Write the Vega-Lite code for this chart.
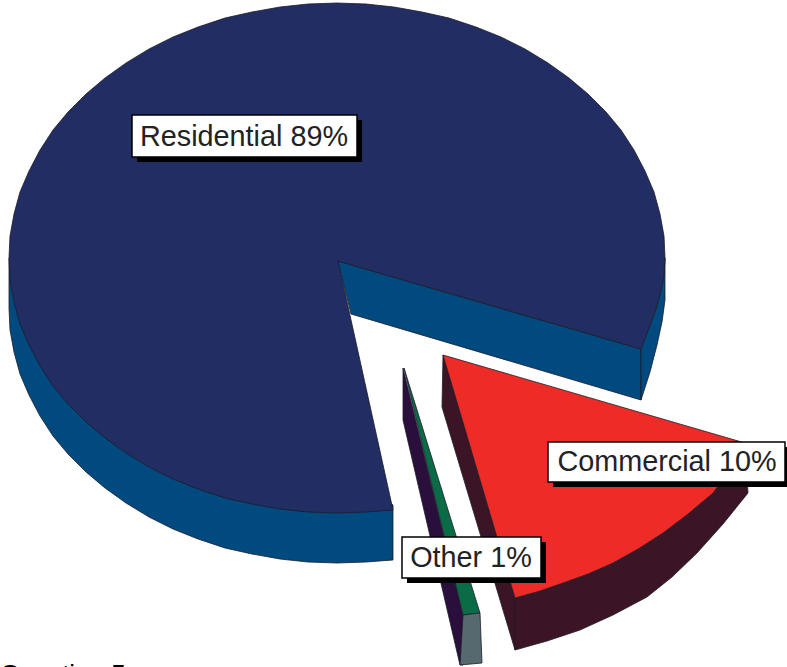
{"$schema":"https://vega.github.io/schema/vega-lite/v6.json","autosize":{"type":"fit","contains":"padding"},"width":787,"height":667,"padding":0,"background":"white","view":{"stroke":null},
"datasets":{
"faces":[
{"part":"Residential side","i":1,"x":9,"y":258},{"part":"Residential side","i":2,"x":9,"y":308},{"part":"Residential side","i":3,"x":10,"y":330},{"part":"Residential side","i":4,"x":14,"y":352},{"part":"Residential side","i":5,"x":20,"y":374},{"part":"Residential side","i":6,"x":29,"y":395},{"part":"Residential side","i":7,"x":40,"y":416},{"part":"Residential side","i":8,"x":53,"y":436},{"part":"Residential side","i":9,"x":68,"y":454},{"part":"Residential side","i":10,"x":86,"y":472},{"part":"Residential side","i":11,"x":105,"y":488},{"part":"Residential side","i":12,"x":126,"y":503},{"part":"Residential side","i":13,"x":149,"y":517},{"part":"Residential side","i":14,"x":173,"y":529},{"part":"Residential side","i":15,"x":198,"y":539},{"part":"Residential side","i":16,"x":225,"y":548},{"part":"Residential side","i":17,"x":252,"y":554},{"part":"Residential side","i":18,"x":280,"y":559},{"part":"Residential side","i":19,"x":308,"y":562},{"part":"Residential side","i":20,"x":337,"y":563},{"part":"Residential side","i":21,"x":366,"y":562},{"part":"Residential side","i":22,"x":393,"y":560},{"part":"Residential side","i":23,"x":393,"y":505},
{"part":"Residential wall","i":1,"x":338,"y":261},{"part":"Residential wall","i":2,"x":641,"y":349},{"part":"Residential wall","i":3,"x":641,"y":400},{"part":"Residential wall","i":4,"x":351,"y":314},
{"part":"Residential rim","i":1,"x":641,"y":349},{"part":"Residential rim","i":2,"x":649,"y":328},{"part":"Residential rim","i":3,"x":656,"y":309},{"part":"Residential rim","i":4,"x":661,"y":290},{"part":"Residential rim","i":5,"x":664,"y":275},{"part":"Residential rim","i":6,"x":665,"y":258},{"part":"Residential rim","i":7,"x":665,"y":300},{"part":"Residential rim","i":8,"x":662,"y":322},{"part":"Residential rim","i":9,"x":657,"y":345},{"part":"Residential rim","i":10,"x":650,"y":372},{"part":"Residential rim","i":11,"x":641,"y":400},
{"part":"Residential top","i":1,"x":641,"y":349},{"part":"Residential top","i":2,"x":649,"y":328},{"part":"Residential top","i":3,"x":656,"y":309},{"part":"Residential top","i":4,"x":661,"y":290},{"part":"Residential top","i":5,"x":664,"y":275},{"part":"Residential top","i":6,"x":665,"y":258},{"part":"Residential top","i":7,"x":664,"y":236},{"part":"Residential top","i":8,"x":660,"y":214},{"part":"Residential top","i":9,"x":654,"y":192},{"part":"Residential top","i":10,"x":645,"y":171},{"part":"Residential top","i":11,"x":634,"y":150},{"part":"Residential top","i":12,"x":621,"y":130},{"part":"Residential top","i":13,"x":606,"y":112},{"part":"Residential top","i":14,"x":588,"y":94},{"part":"Residential top","i":15,"x":569,"y":78},{"part":"Residential top","i":16,"x":548,"y":63},{"part":"Residential top","i":17,"x":525,"y":49},{"part":"Residential top","i":18,"x":501,"y":37},{"part":"Residential top","i":19,"x":476,"y":27},{"part":"Residential top","i":20,"x":449,"y":18},{"part":"Residential top","i":21,"x":422,"y":12},{"part":"Residential top","i":22,"x":394,"y":7},{"part":"Residential top","i":23,"x":366,"y":4},{"part":"Residential top","i":24,"x":337,"y":3},{"part":"Residential top","i":25,"x":308,"y":4},{"part":"Residential top","i":26,"x":280,"y":7},{"part":"Residential top","i":27,"x":252,"y":12},{"part":"Residential top","i":28,"x":225,"y":18},{"part":"Residential top","i":29,"x":198,"y":27},{"part":"Residential top","i":30,"x":173,"y":37},{"part":"Residential top","i":31,"x":149,"y":49},{"part":"Residential top","i":32,"x":126,"y":63},{"part":"Residential top","i":33,"x":105,"y":78},{"part":"Residential top","i":34,"x":86,"y":94},{"part":"Residential top","i":35,"x":68,"y":112},{"part":"Residential top","i":36,"x":53,"y":130},{"part":"Residential top","i":37,"x":40,"y":150},{"part":"Residential top","i":38,"x":29,"y":171},{"part":"Residential top","i":39,"x":20,"y":192},{"part":"Residential top","i":40,"x":14,"y":214},{"part":"Residential top","i":41,"x":10,"y":236},{"part":"Residential top","i":42,"x":9,"y":258},{"part":"Residential top","i":43,"x":10,"y":280},{"part":"Residential top","i":44,"x":14,"y":302},{"part":"Residential top","i":45,"x":20,"y":324},{"part":"Residential top","i":46,"x":29,"y":345},{"part":"Residential top","i":47,"x":40,"y":366},{"part":"Residential top","i":48,"x":53,"y":386},{"part":"Residential top","i":49,"x":68,"y":404},{"part":"Residential top","i":50,"x":86,"y":422},{"part":"Residential top","i":51,"x":105,"y":438},{"part":"Residential top","i":52,"x":126,"y":453},{"part":"Residential top","i":53,"x":149,"y":467},{"part":"Residential top","i":54,"x":173,"y":479},{"part":"Residential top","i":55,"x":198,"y":489},{"part":"Residential top","i":56,"x":225,"y":498},{"part":"Residential top","i":57,"x":252,"y":504},{"part":"Residential top","i":58,"x":280,"y":509},{"part":"Residential top","i":59,"x":308,"y":512},{"part":"Residential top","i":60,"x":337,"y":513},{"part":"Residential top","i":61,"x":366,"y":512},{"part":"Residential top","i":62,"x":393,"y":510},{"part":"Residential top","i":63,"x":338,"y":261},
{"part":"Other wall","i":1,"x":403,"y":368},{"part":"Other wall","i":2,"x":463,"y":615},{"part":"Other wall","i":3,"x":463,"y":665},{"part":"Other wall","i":4,"x":460,"y":665},{"part":"Other wall","i":5,"x":403,"y":420},
{"part":"Other top","i":1,"x":404,"y":368},{"part":"Other top","i":2,"x":480,"y":613},{"part":"Other top","i":3,"x":463,"y":615},
{"part":"Other side","i":1,"x":463,"y":615},{"part":"Other side","i":2,"x":480,"y":613},{"part":"Other side","i":3,"x":482,"y":663},{"part":"Other side","i":4,"x":460,"y":665},
{"part":"Commercial wall","i":1,"x":443,"y":355},{"part":"Commercial wall","i":2,"x":515,"y":598},{"part":"Commercial wall","i":3,"x":515,"y":650},{"part":"Commercial wall","i":4,"x":442,"y":407},
{"part":"Commercial side","i":1,"x":515,"y":598},{"part":"Commercial side","i":2,"x":540,"y":591},{"part":"Commercial side","i":3,"x":563,"y":583},{"part":"Commercial side","i":4,"x":588,"y":574},{"part":"Commercial side","i":5,"x":613,"y":563},{"part":"Commercial side","i":6,"x":638,"y":549},{"part":"Commercial side","i":7,"x":663,"y":533},{"part":"Commercial side","i":8,"x":688,"y":514},{"part":"Commercial side","i":9,"x":713,"y":493},{"part":"Commercial side","i":10,"x":730,"y":470},{"part":"Commercial side","i":11,"x":745,"y":443},{"part":"Commercial side","i":12,"x":748,"y":493},{"part":"Commercial side","i":13,"x":723,"y":524},{"part":"Commercial side","i":14,"x":697,"y":553},{"part":"Commercial side","i":15,"x":672,"y":577},{"part":"Commercial side","i":16,"x":647,"y":597},{"part":"Commercial side","i":17,"x":613,"y":615},{"part":"Commercial side","i":18,"x":580,"y":630},{"part":"Commercial side","i":19,"x":547,"y":641},{"part":"Commercial side","i":20,"x":515,"y":650},
{"part":"Commercial top","i":1,"x":443,"y":355},{"part":"Commercial top","i":2,"x":745,"y":443},{"part":"Commercial top","i":3,"x":730,"y":470},{"part":"Commercial top","i":4,"x":713,"y":493},{"part":"Commercial top","i":5,"x":688,"y":514},{"part":"Commercial top","i":6,"x":663,"y":533},{"part":"Commercial top","i":7,"x":638,"y":549},{"part":"Commercial top","i":8,"x":613,"y":563},{"part":"Commercial top","i":9,"x":588,"y":574},{"part":"Commercial top","i":10,"x":563,"y":583},{"part":"Commercial top","i":11,"x":540,"y":591},{"part":"Commercial top","i":12,"x":515,"y":598}
],
"labels":[
{"label":"Residential 89%","share":89,"x0":132,"x1":357,"y0":115,"y1":157,"cx":244,"cy":137},
{"label":"Commercial 10%","share":10,"x0":548,"x1":785,"y0":442,"y1":482,"cx":667,"cy":462},
{"label":"Other 1%","share":1,"x0":402,"x1":541,"y0":537,"y1":578,"cx":471,"cy":558}
],
"footer":[{"label":"Question 5","x":0,"y":683}]
},
"data":{"name":"faces"},
"layer":[
{"mark":{"type":"line","interpolate":"linear-closed","stroke":"#1c1c28","strokeWidth":0.8},
"encoding":{
"x":{"field":"x","type":"quantitative","scale":{"domain":[0,787]},"axis":null},
"y":{"field":"y","type":"quantitative","scale":{"domain":[667,0]},"axis":null},
"order":{"field":"i","type":"quantitative"},
"detail":{"field":"part"},
"fill":{"field":"part","type":"nominal","legend":null,"scale":{"domain":["Residential side","Residential wall","Residential rim","Residential top","Other wall","Other top","Other side","Commercial wall","Commercial side","Commercial top"],"range":["#004a80","#004a80","#004a80","#212d63","#2a0f3c","#0a6b47","#56696f","#3b1426","#3b1426","#ee2b27"]}}}},
{"data":{"name":"labels"},"mark":{"type":"rect","fill":"#000000","clip":true,"xOffset":5,"x2Offset":5,"yOffset":5,"y2Offset":5},
"encoding":{"x":{"field":"x0","type":"quantitative","scale":{"domain":[0,787]},"axis":null},"x2":{"field":"x1"},"y":{"field":"y0","type":"quantitative","scale":{"domain":[667,0]},"axis":null},"y2":{"field":"y1"}}},
{"data":{"name":"labels"},"mark":{"type":"rect","fill":"#ffffff","stroke":"#000000","strokeWidth":1.5},
"encoding":{"x":{"field":"x0","type":"quantitative","scale":{"domain":[0,787]},"axis":null},"x2":{"field":"x1"},"y":{"field":"y0","type":"quantitative","scale":{"domain":[667,0]},"axis":null},"y2":{"field":"y1"}}},
{"data":{"name":"labels"},"mark":{"type":"text","font":"Liberation Sans","fontSize":28.8,"fill":"#222222","align":"center","baseline":"middle"},
"encoding":{"x":{"field":"cx","type":"quantitative","scale":{"domain":[0,787]},"axis":null},"y":{"field":"cy","type":"quantitative","scale":{"domain":[667,0]},"axis":null},"text":{"field":"label"}}},
{"data":{"name":"footer"},"mark":{"type":"text","clip":true,"font":"Liberation Sans","fontSize":26,"fill":"#000000","align":"left","baseline":"alphabetic"},
"encoding":{"x":{"field":"x","type":"quantitative","scale":{"domain":[0,787]},"axis":null},"y":{"field":"y","type":"quantitative","scale":{"domain":[667,0]},"axis":null},"text":{"field":"label"}}}
]}
